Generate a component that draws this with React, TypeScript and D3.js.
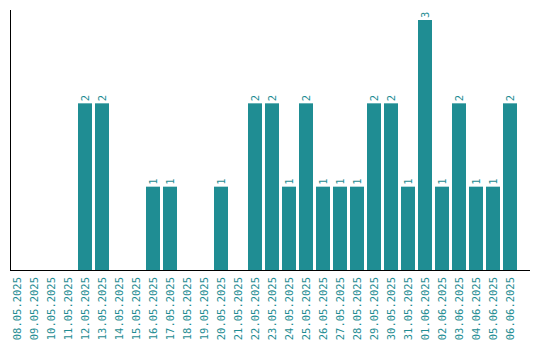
import { useEffect, useRef } from 'react';
import * as d3 from 'd3';

const dates = [
  '08.05.2025', '09.05.2025', '10.05.2025', '11.05.2025', '12.05.2025',
  '13.05.2025', '14.05.2025', '15.05.2025', '16.05.2025', '17.05.2025',
  '18.05.2025', '19.05.2025', '20.05.2025', '21.05.2025', '22.05.2025',
  '23.05.2025', '24.05.2025', '25.05.2025', '26.05.2025', '27.05.2025',
  '28.05.2025', '29.05.2025', '30.05.2025', '31.05.2025', '01.06.2025',
  '02.06.2025', '03.06.2025', '04.06.2025', '05.06.2025', '06.06.2025',
];
const counts = [0, 0, 0, 0, 2, 2, 0, 0, 1, 1, 0, 0, 1, 0, 2, 2, 1, 2, 1, 1, 1, 2, 2, 1, 3, 1, 2, 1, 1, 2];

const color = '#1f8d93';

const App = () => {
  const svgRef = useRef<SVGSVGElement>(null);

  useEffect(() => {
    if (!svgRef.current) return;
    const width = 540;
    const height = 340;

    d3.select(svgRef.current).selectAll('*').remove();

    const svg = d3.select(svgRef.current)
      .attr('width', width)
      .attr('height', height)
      .style('font-family', '"DejaVu Sans Mono", monospace');

    const data = dates.map((d, i) => ({ label: d, value: counts[i] }));

    const left = 10;
    const bottom = 270;

    const x = d3.scaleBand()
      .domain(dates)
      .range([left, 517])
      .paddingInner(3 / 17)
      .paddingOuter(0)
      .align(0);

    const y = d3.scaleLinear()
      .domain([0, 3])
      .range([bottom, 20]);

    // bars
    svg.selectAll('.bar')
      .data(data)
      .enter()
      .append('rect')
      .attr('class', 'bar')
      .attr('x', d => x(d.label) as number)
      .attr('y', d => y(d.value))
      .attr('width', x.bandwidth())
      .attr('height', d => bottom - y(d.value))
      .attr('fill', color);

    // value labels
    svg.selectAll('.label')
      .data(data.filter(d => d.value > 0))
      .enter()
      .append('text')
      .attr('class', 'label')
      .attr('transform', d => `translate(${(x(d.label) as number) + x.bandwidth() / 2},${y(d.value) - 2}) rotate(-90)`)
      .attr('dy', '0.35em')
      .attr('text-anchor', 'start')
      .attr('fill', color)
      .style('font-size', '10.5px')
      .text(d => d.value);

    // x tick labels
    svg.selectAll('.tick-label')
      .data(dates)
      .enter()
      .append('text')
      .attr('class', 'tick-label')
      .attr('transform', d => `translate(${(x(d) as number) + x.bandwidth() / 2},${bottom + 7}) rotate(-90)`)
      .attr('dy', '0.35em')
      .attr('text-anchor', 'end')
      .attr('fill', color)
      .style('font-size', '10.5px')
      .text(d => d);

    // axis lines
    svg.append('line')
      .attr('x1', left + 0.5).attr('x2', left + 0.5)
      .attr('y1', 10).attr('y2', bottom + 1)
      .attr('stroke', '#000')
      .attr('stroke-width', 1);

    svg.append('line')
      .attr('x1', left).attr('x2', 530)
      .attr('y1', bottom + 0.5).attr('y2', bottom + 0.5)
      .attr('stroke', '#000')
      .attr('stroke-width', 1);
  }, []);

  return (
    <div style={{ position: 'absolute', left: 0, top: 0 }}>
      <svg ref={svgRef}></svg>
    </div>
  );
};

export default App;
